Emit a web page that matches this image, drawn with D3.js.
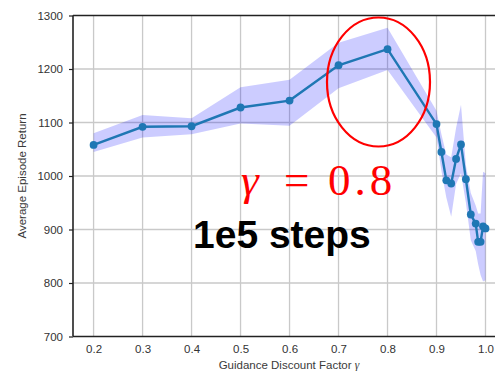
<!DOCTYPE html>
<html>
<head>
<meta charset="utf-8">
<script src="https://cdn.jsdelivr.net/npm/d3@7"></script>
<style>
  html, body { margin: 0; padding: 0; background: #fff; }
  svg { display: block; }
</style>
</head>
<body>
<svg id="chart" width="495" height="371"></svg>
<script>
// Guidance discount factor sweep: mean episode return with spread band
const gammas = [0.2, 0.3, 0.4, 0.5, 0.6, 0.7, 0.8, 0.9, 0.91, 0.92, 0.93, 0.94, 0.95, 0.96, 0.97, 0.98, 0.985, 0.99, 0.995, 1.0];
const meanReturn = [1058, 1092, 1093, 1128, 1141, 1207, 1237, 1097, 1045, 992, 986, 1032, 1059, 994, 928, 911, 877, 877, 906, 902];
const upperReturn = [1080, 1114, 1108, 1166, 1180, 1249, 1277, 1122, 1078, 1040, 1035, 1090, 1133, 1020, 968, 945, 930, 930, 1008, 1005];
const lowerReturn = [1045, 1072, 1078, 1098, 1094, 1164, 1198, 1072, 1010, 960, 924, 985, 1005, 950, 880, 860, 835, 815, 803, 805];

const xTicks = [0.2, 0.3, 0.4, 0.5, 0.6, 0.7, 0.8, 0.9, 1.0];
const yTicks = [700, 800, 900, 1000, 1100, 1200, 1300];

const svg = d3.select("#chart");
const plotLeft = 73, plotTop = 15.5, plotBottom = 336.5, plotRight = 495;

const x = d3.scaleLinear().domain([0.158, 1.0194]).range([plotLeft, plotRight]);
const y = d3.scaleLinear().domain([700, 1300]).range([plotBottom, plotTop]);

const data = gammas.map((g, i) => ({ g, m: meanReturn[i], hi: upperReturn[i], lo: lowerReturn[i] }));

// grid
const grid = svg.append("g").attr("stroke", "#c9c9c9").attr("stroke-width", 1.3);
grid.selectAll("line.v").data(xTicks).join("line")
  .attr("x1", d => x(d)).attr("x2", d => x(d))
  .attr("y1", plotTop).attr("y2", plotBottom);
grid.selectAll("line.h").data(yTicks.slice(1, -1)).join("line")
  .attr("x1", plotLeft).attr("x2", plotRight)
  .attr("y1", d => y(d)).attr("y2", d => y(d));

// spread band
svg.append("path").datum(data)
  .attr("fill", "#0000ff").attr("fill-opacity", 0.2)
  .attr("d", d3.area().x(d => x(d.g)).y0(d => y(d.lo)).y1(d => y(d.hi)));

// mean line + markers
svg.append("path").datum(data)
  .attr("fill", "none").attr("stroke", "#1f77b4").attr("stroke-width", 2.4)
  .attr("d", d3.line().x(d => x(d.g)).y(d => y(d.m)));
svg.append("g").selectAll("circle").data(data).join("circle")
  .attr("cx", d => x(d.g)).attr("cy", d => y(d.m)).attr("r", 3.9)
  .attr("fill", "#1f77b4");

// axes
const xAxis = svg.append("g").attr("transform", `translate(0,${plotBottom})`)
  .call(d3.axisBottom(x).tickValues(xTicks).tickFormat(d3.format(".1f")).tickSize(0).tickPadding(8));
const yAxis = svg.append("g").attr("transform", `translate(${plotLeft},0)`)
  .call(d3.axisLeft(y).tickValues(yTicks).tickFormat(d3.format("d")).tickSize(4).tickPadding(6));
[xAxis, yAxis].forEach(a => {
  a.select(".domain").attr("stroke", "#222").attr("stroke-width", 1.6);
  a.selectAll(".tick line").attr("stroke", "#222").attr("stroke-width", 1.2);
  a.selectAll("text").attr("font-family", "Liberation Sans, Arial, sans-serif")
    .attr("font-size", 11.5).attr("fill", "#333");
});
yAxis.select(".domain").attr("d", `M0,${plotTop}V${plotBottom}`);
xAxis.select(".domain").attr("d", `M${plotLeft},0H${plotRight}`);

// top spine
svg.append("line").attr("x1", plotLeft).attr("x2", plotRight).attr("y1", plotTop).attr("y2", plotTop)
  .attr("stroke", "#222").attr("stroke-width", 1.4);

// axis titles
const xTitle = svg.append("text").attr("x", 289).attr("y", 369)
  .attr("text-anchor", "middle").attr("font-family", "Liberation Sans, Arial, sans-serif")
  .attr("font-size", 11.5).attr("fill", "#3a3a3a");
xTitle.append("tspan").text("Guidance Discount Factor ");
xTitle.append("tspan").attr("font-family", "Liberation Serif, serif").attr("font-style", "italic").text("γ");
svg.append("text").attr("transform", "translate(26,176) rotate(-90)")
  .attr("text-anchor", "middle").attr("font-family", "Liberation Sans, Arial, sans-serif")
  .attr("font-size", 11.5).attr("fill", "#3a3a3a")
  .text("Average Episode Return");

// highlight around the peak
svg.append("ellipse").attr("cx", 378.5).attr("cy", 82).attr("rx", 51.5).attr("ry", 64.5)
  .attr("fill", "none").attr("stroke", "#ff0000").attr("stroke-width", 2.2);

const note = svg.append("text").attr("y", 195)
  .attr("font-family", "Liberation Serif, DejaVu Serif, serif")
  .attr("font-size", 45).attr("fill", "#ff0000");
note.append("tspan").attr("x", 241).attr("font-style", "italic").text("γ");
note.append("tspan").attr("x", 284).text("=");
note.append("tspan").attr("x", 328).attr("letter-spacing", 4).text("0.8");

svg.append("text").attr("x", 193).attr("y", 248)
  .attr("font-family", "Liberation Sans, Arial, sans-serif").attr("font-weight", "bold")
  .attr("font-size", 39).attr("fill", "#000")
  .text("1e5 steps");
</script>
</body>
</html>
